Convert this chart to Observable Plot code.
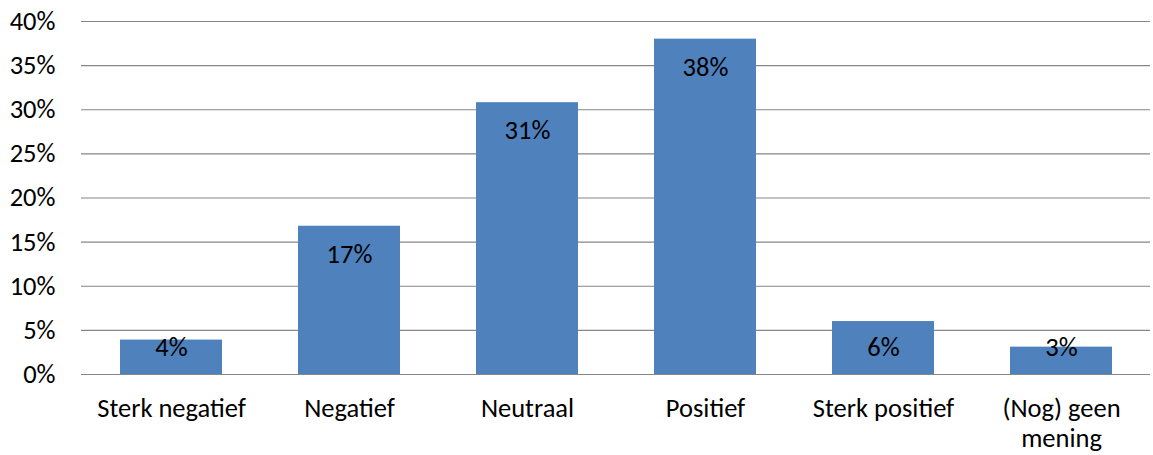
<!DOCTYPE html>
<html>
<head>
<meta charset="utf-8">
<script src="https://cdn.jsdelivr.net/npm/d3@7"></script>
<script src="https://cdn.jsdelivr.net/npm/@observablehq/plot@0.6"></script>
<style>
  html, body { margin: 0; padding: 0; background: #fff; }
  #chart svg { display: block; }
  #chart svg text { font-family: Carlito, Calibri, Lato, sans-serif; font-size: 26.5px !important; fill: #000; }
</style>
</head>
<body>
<div id="chart"></div>
<script>
const categories = ["Sterk negatief", "Negatief", "Neutraal", "Positief", "Sterk positief", "(Nog) geen\nmening"];
const values = [0.039, 0.168, 0.308, 0.380, 0.060, 0.031];
const labels = ["4%", "17%", "31%", "38%", "6%", "3%"];
const yTicks = [0, 0.05, 0.10, 0.15, 0.20, 0.25, 0.30, 0.35, 0.40];

const data = categories.map((c, i) => ({category: c, value: values[i], label: labels[i]}));
const font = "Carlito, Calibri, Lato, sans-serif";
const gray = "#868686";

const chart = Plot.plot({
  width: 1153,
  height: 455,
  marginLeft: 81,
  marginRight: 3,
  marginTop: 21,
  marginBottom: 81,
  style: {fontFamily: font, fontSize: "26.5px", color: "#000", background: "#fff", overflow: "visible"},
  x: {domain: categories, paddingInner: 0.427, paddingOuter: 0.2135, label: null},
  y: {domain: [0, 0.40], label: null},
  marks: [
    Plot.gridY(yTicks, {stroke: gray, strokeOpacity: 1, strokeWidth: 1.2}),
    Plot.barY(data, {x: "category", y: "value", fill: "#4F81BD"}),
    Plot.text(data, {
      x: "category",
      y: d => Math.max(d.value - 0.0317, 0.0306),
      text: "label",
      fontSize: 26.5,
      fill: "#000"
    }),
    Plot.axisY(yTicks, {
      tickSize: 0, tickPadding: 26, tickFormat: d3.format(".0%"),
      fontSize: 26.5, fill: "#000", line: true, stroke: gray, strokeWidth: 1.2, label: null
    }),
    Plot.axisX({
      tickSize: 0, tickPadding: 21, fontSize: 26.5, fill: "#000",
      lineHeight: 1.13, line: true, stroke: gray, strokeWidth: 1.2, label: null
    })
  ]
});
document.getElementById("chart").appendChild(chart);
</script>
</body>
</html>
